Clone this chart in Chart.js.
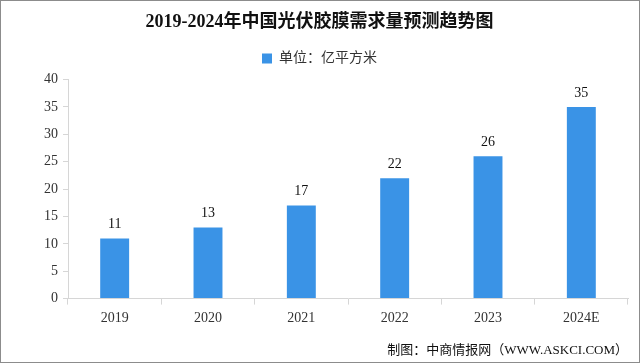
<!DOCTYPE html>
<html>
<head>
<meta charset="utf-8">
<script src="https://cdn.jsdelivr.net/npm/chart.js@4/dist/chart.umd.min.js"></script>
<style>
html,body{margin:0;padding:0;background:#fff;}
#wrap{position:relative;width:640px;height:363px;box-sizing:border-box;border:1px solid #8c8c8c;}
canvas{display:block;}
</style>
</head>
<body>
<div id="wrap"><canvas id="c" width="638" height="361"></canvas></div>
<script>
const categories = ['2019', '2020', '2021', '2022', '2023', '2024E'];
const demand = [11, 13, 17, 22, 26, 35];
const yTicks = [0, 5, 10, 15, 20, 25, 30, 35, 40];
const seriesName = '单位：亿平方米';
const titleText = '2019-2024年中国光伏胶膜需求量预测趋势图';
const sourceText = '制图：中商情报网（WWW.ASKCI.COM）';

const barColor = '#3a93e6';
const axisColor = '#d6d6d6';
const textColor = '#333333';
const fontFam = '"Liberation Serif", "Noto Sans CJK SC", serif';

const valueLabels = {
  id: 'valueLabels',
  afterDatasetsDraw(chart) {
    const ctx = chart.ctx;
    const meta = chart.getDatasetMeta(0);
    ctx.save();
    ctx.font = '14px ' + fontFam;
    ctx.fillStyle = '#111';
    ctx.textAlign = 'center';
    ctx.textBaseline = 'bottom';
    meta.data.forEach((bar, i) => {
      ctx.fillText(String(chart.data.datasets[0].data[i]), bar.x, bar.y - 7);
    });
    ctx.restore();
  }
};

const legendGap = {
  id: 'legendGap',
  beforeInit(chart) {
    const lg = chart.legend;
    if (!lg) return;
    const orig = lg.fit;
    lg.fit = function () { orig.call(this); this.height += 4; };
  }
};

new Chart(document.getElementById('c'), {
  type: 'bar',
  data: {
    labels: categories,
    datasets: [{
      label: seriesName,
      data: demand,
      backgroundColor: barColor,
      borderWidth: 0,
      barPercentage: 0.31,
      categoryPercentage: 1.0
    }]
  },
  options: {
    responsive: false,
    animation: false,
    devicePixelRatio: 1,
    layout: { padding: { left: 10, right: 11, top: 0, bottom: 4 } },
    plugins: {
      title: {
        display: true,
        text: titleText,
        color: '#111',
        font: { family: fontFam, size: 18, weight: 'bold' },
        padding: { top: 11, bottom: 8 }
      },
      subtitle: {
        display: true,
        text: sourceText,
        position: 'bottom',
        align: 'end',
        color: '#111',
        font: { family: fontFam, size: 13 },
        padding: { top: 11, bottom: 0 }
      },
      legend: {
        display: true,
        labels: {
          color: textColor,
          font: { family: fontFam, size: 14 },
          boxWidth: 10,
          boxHeight: 10,
          padding: 10
        },
        onClick: null
      },
      tooltip: { enabled: false }
    },
    scales: {
      x: {
        grid: { display: true, drawOnChartArea: false, drawTicks: true, tickLength: 6, color: axisColor, offset: true },
        border: { display: true, color: axisColor },
        ticks: { color: textColor, font: { family: fontFam, size: 14 }, padding: 5 }
      },
      y: {
        min: 0,
        max: 40,
        afterBuildTicks(scale) { scale.ticks = yTicks.map(v => ({ value: v })); },
        afterFit(scale) { scale.width = 57; },
        grid: { display: true, drawOnChartArea: false, drawTicks: true, tickLength: 5, color: axisColor },
        border: { display: true, color: axisColor },
        ticks: { color: textColor, font: { family: fontFam, size: 14 }, padding: 5 }
      }
    }
  },
  plugins: [valueLabels, legendGap]
});
</script>
</body>
</html>
